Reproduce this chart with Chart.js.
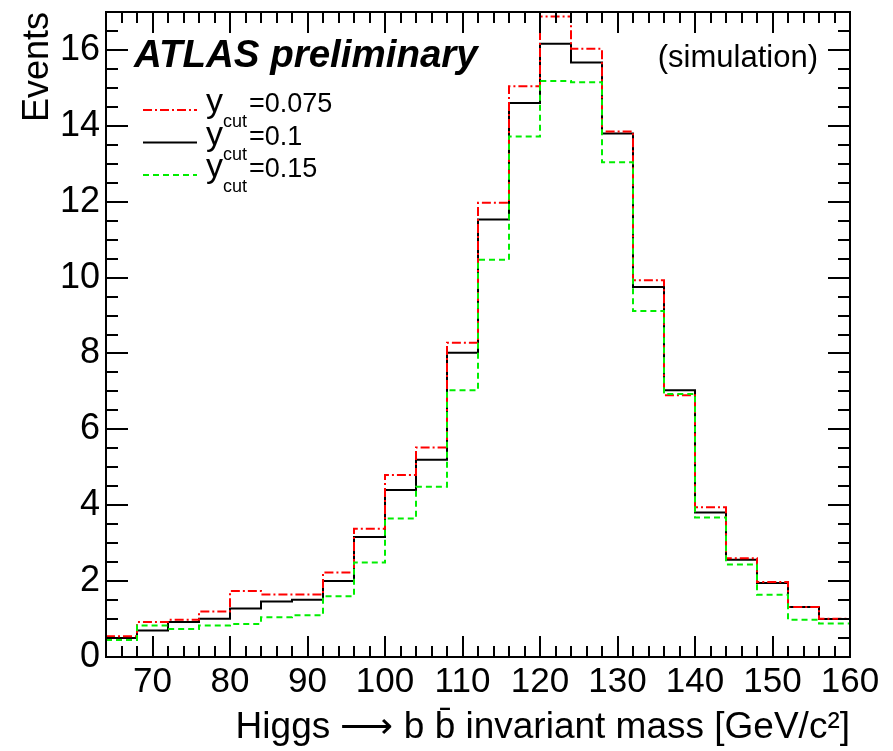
<!DOCTYPE html>
<html>
<head>
<meta charset="utf-8">
<script src="https://cdn.jsdelivr.net/npm/chart.js@4.4.0/dist/chart.umd.min.js"></script>
<style>
  html, body { margin: 0; padding: 0; background: #fff; }
  #wrap { width: 893px; height: 751px; }
</style>
</head>
<body>
<div id="wrap"><canvas id="grafico"></canvas></div>
<script>
// bordas dos bins (GeV) e conteúdo de cada bin
const binEdges = [64, 68, 72, 76, 80, 84, 88, 92, 96, 100, 104, 108, 112, 116, 120, 124, 128, 132, 136, 140, 144, 148, 152, 156, 160];
const ycut0075 = [0.55, 0.92, 0.98, 1.2, 1.74, 1.65, 1.65, 2.23, 3.38, 4.8, 5.52, 8.28, 11.97, 15.04, 16.88, 16.03, 13.85, 9.93, 6.9, 3.95, 2.6, 1.98, 1.32, 1.01];
const ycut010 = [0.5, 0.7, 0.92, 1.01, 1.28, 1.46, 1.51, 2.0, 3.16, 4.4, 5.2, 8.02, 11.53, 14.6, 16.16, 15.67, 13.8, 9.75, 7.03, 3.81, 2.56, 1.95, 1.32, 1.0];
const ycut015 = [0.45, 0.83, 0.74, 0.83, 0.87, 1.05, 1.1, 1.6, 2.49, 3.65, 4.49, 7.03, 10.47, 13.72, 15.18, 15.15, 13.04, 9.12, 6.93, 3.68, 2.44, 1.64, 0.98, 0.88];
const ycutNames = ['0.075', '0.1', '0.15'];

const fonte = '"Liberation Sans", Arial, Helvetica, sans-serif';
Chart.defaults.font.family = fonte;
Chart.defaults.color = '#000';

function histo(valores) {
  // um ponto por borda esquerda, o último repete o valor até 160
  return binEdges.map((x, i) => ({ x, y: valores[Math.min(i, valores.length - 1)] }));
}

// moldura com ticks para dentro nos quatro lados (estilo ROOT)
const moldura = {
  id: 'moldura',
  afterDraw(chart) {
    const { ctx, chartArea: a, scales: { x, y } } = chart;
    ctx.save();
    ctx.strokeStyle = '#000';
    ctx.lineWidth = 2;
    ctx.beginPath();
    for (let v = x.min; v <= x.max + 1e-9; v += 2) {
      const px = Math.round(x.getPixelForValue(v));
      const len = v % 10 === 0 ? 21 : 11;
      ctx.moveTo(px, a.bottom); ctx.lineTo(px, a.bottom - len);
      ctx.moveTo(px, a.top); ctx.lineTo(px, a.top + len);
    }
    for (let v = y.min; v <= y.max + 1e-9; v += 0.5) {
      const py = Math.round(y.getPixelForValue(v));
      const len = v % 2 === 0 ? 22 : 12;
      ctx.moveTo(a.left, py); ctx.lineTo(a.left + len, py);
      ctx.moveTo(a.right, py); ctx.lineTo(a.right - len, py);
    }
    ctx.stroke();
    ctx.strokeRect(a.left, a.top, a.right - a.left, a.bottom - a.top);
    ctx.restore();
  }
};

// textos: ATLAS, (simulation) e a legenda com subscrito
const textos = {
  id: 'textos',
  afterDraw(chart) {
    const { ctx } = chart;
    ctx.save();
    ctx.fillStyle = '#000';
    ctx.textBaseline = 'alphabetic';
    ctx.font = 'italic bold 38.5px ' + fonte;
    ctx.textAlign = 'left';
    ctx.fillText('ATLAS preliminary', 134, 67);
    ctx.font = '31px ' + fonte;
    ctx.textAlign = 'right';
    ctx.fillText('(simulation)', 818, 67);

    [0, 1, 2].forEach((i, k) => {
      const ds = chart.data.datasets[i];
      const yl = 110 + k * 32.5;
      ctx.strokeStyle = ds.borderColor;
      ctx.lineWidth = 2;
      ctx.setLineDash(ds.borderDash || []);
      ctx.beginPath();
      ctx.moveTo(143, yl);
      ctx.lineTo(197, yl);
      ctx.stroke();
      ctx.setLineDash([]);
      const base = yl + 2;
      ctx.textAlign = 'left';
      ctx.font = '34px ' + fonte;
      ctx.fillText('y', 206, base);
      ctx.font = '18px ' + fonte;
      ctx.fillText('cut', 223, base + 15);
      ctx.font = '27px ' + fonte;
      ctx.fillText('=' + ycutNames[i], 249, base);
    });
    ctx.restore();
  }
};

const ctx = document.getElementById('grafico').getContext('2d');
new Chart(ctx, {
  type: 'line',
  data: {
    datasets: [
      { label: 'ycut=0.075', data: histo(ycut0075), borderColor: '#ff0000', borderDash: [9, 3, 2, 3], order: 1 },
      { label: 'ycut=0.1', data: histo(ycut010), borderColor: '#000000', order: 2 },
      { label: 'ycut=0.15', data: histo(ycut015), borderColor: '#00ee00', borderDash: [6, 4], order: 0 }
    ]
  },
  options: {
    responsive: true,
    maintainAspectRatio: false,
    animation: false,
    layout: { padding: { top: 12, right: 43, left: 0, bottom: 0 } },
    datasets: { line: { stepped: 'before', borderWidth: 2, pointRadius: 0, fill: false } },
    plugins: { legend: { display: false }, tooltip: { enabled: false } },
    scales: {
      x: {
        type: 'linear', min: 64, max: 160,
        grid: { display: false, drawTicks: false },
        border: { display: false },
        ticks: { stepSize: 10, includeBounds: false, padding: 4, maxRotation: 0, autoSkip: false, color: '#000', font: { size: 35 } },
        title: { display: true, text: 'Higgs \u27f6 b b\u0304 invariant mass [GeV/c\u00b2]', align: 'end', color: '#000', font: { size: 37 }, padding: { top: 0, bottom: 1 } },
        afterFit: s => { s.height = 94; }
      },
      y: {
        min: 0, max: 17,
        grid: { display: false, drawTicks: false },
        border: { display: false },
        ticks: { stepSize: 2, includeBounds: false, padding: 6, color: '#000', font: { size: 36 } },
        title: { display: true, text: 'Events', align: 'end', color: '#000', font: { size: 36 }, padding: { top: 16, bottom: 0 } },
        afterFit: s => { s.width = 106; s.paddingTop = 0; s.paddingBottom = 0; }
      }
    }
  },
  plugins: [moldura, textos]
});
</script>
</body>
</html>
